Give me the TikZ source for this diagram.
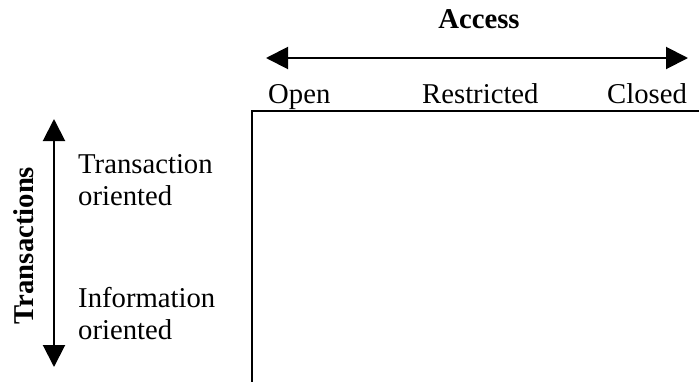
\documentclass[tikz,border=0pt]{standalone}
\usepackage{fontspec}
\setmainfont{Liberation Serif}
\usetikzlibrary{arrows.meta}
\begin{document}
\begin{tikzpicture}[x=1pt,y=-1pt,
  lbl/.style={inner sep=0pt,anchor=base west,font=\fontsize{28.7}{32}\selectfont},
  ttl/.style={inner sep=0pt,anchor=base,font=\fontsize{28.7}{32}\selectfont\bfseries},
  dblarrow/.style={line width=2pt,{Triangle[length=22pt,width=22pt]}-{Triangle[length=22pt,width=22pt]}},
  frame/.style={line width=2pt}]
\useasboundingbox (0,0) rectangle (699,381);
% titles
\node[ttl] (access) at (479,28) {Access};
\node[ttl,rotate=90] (trans) at (33,245.5) {Transactions};
% arrows
\coordinate (hl) at (266,58);
\coordinate (hr) at (688,58);
\draw[dblarrow] (hl) -- (hr);
\coordinate (vt) at (54,119);
\coordinate (vb) at (54,367);
\draw[dblarrow] (vt) -- (vb);
% column labels
\node[lbl] (open) at (268,103) {Open};
\node[lbl] (restr) at (422,103) {Restricted};
\node[lbl] (closed) at (607,103) {Closed};
% row labels
\node[lbl] (to1) at (78,173) {Transaction};
\node[lbl] (to2) at (78,205) {oriented};
\node[lbl] (io1) at (78,307) {Information};
\node[lbl] (io2) at (78,339) {oriented};
% frame
\coordinate (fb) at (252,382);
\coordinate (fc) at (252,111);
\coordinate (fr) at (700,111);
\draw[frame] (fb) -- (fc) -- (fr);
\end{tikzpicture}
\end{document}
